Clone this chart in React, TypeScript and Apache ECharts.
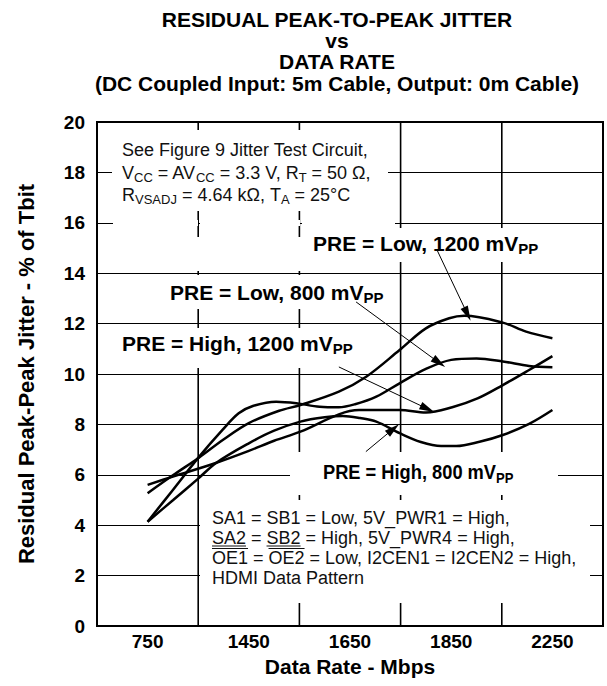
import React, { useEffect, useRef } from 'react';
import * as echarts from 'echarts';

const FONT = '"Liberation Sans", Arial, Helvetica, sans-serif';

// x-axis categories (Mbps), drawn equally spaced
const categories = ['750', '1450', '1650', '1850', '2250'];

// Curve samples: position in category units (0 = 750 ... 4 = 2250) and jitter in % of Tbit
const preLow1200X = [0, 0.25, 0.51, 0.75, 1.0, 1.3, 1.51, 1.89, 2.16, 2.49, 2.75, 2.98, 3.13, 3.51, 3.74, 4.0];
const preLow1200Y = [5.27, 5.98, 6.69, 7.4, 8.05, 8.54, 8.77, 9.3, 9.89, 10.95, 11.81, 12.21, 12.31, 12.04, 11.68, 11.42];

const preLow800X = [0, 0.25, 0.51, 0.74, 0.9, 1.04, 1.27, 1.47, 1.7, 1.89, 2.05, 2.26, 2.49, 2.75, 3.0, 3.25, 3.51, 3.77, 4.0];
const preLow800Y = [4.14, 5.4, 6.72, 7.78, 8.44, 8.73, 8.9, 8.84, 8.7, 8.68, 8.8, 9.1, 9.63, 10.2, 10.56, 10.62, 10.5, 10.32, 10.27];

const preHigh1200X = [0, 0.25, 0.68, 1.0, 1.25, 1.51, 1.89, 2.09, 2.49, 2.75, 3.01, 3.26, 3.51, 3.77, 4.0];
const preHigh1200Y = [5.6, 5.93, 6.48, 6.95, 7.35, 7.71, 8.4, 8.57, 8.57, 8.47, 8.68, 9.03, 9.56, 10.16, 10.71];

const preHigh800X = [0, 0.25, 0.5, 0.68, 1.0, 1.25, 1.51, 1.75, 1.93, 2.1, 2.26, 2.49, 2.7, 2.9, 3.05, 3.28, 3.51, 3.77, 4.0];
const preHigh800Y = [4.14, 4.99, 5.85, 6.48, 7.25, 7.75, 8.11, 8.28, 8.33, 8.25, 8.11, 7.65, 7.3, 7.14, 7.14, 7.31, 7.58, 8.02, 8.57];

// Arrow annotations: [fromX, fromY, toX, toY] in the same units as the curves
const arrowLow1200 = [2.86, 14.92, 3.16, 12.38];
const arrowLow800 = [2.06, 12.86, 2.88, 10.45];
const arrowHigh1200 = [1.89, 10.28, 2.765, 8.62];
const arrowHigh800 = [2.157, 6.92, 2.427, 7.82];

// vertical grid lines sit between categories (x-scale units)
const bandBoundaries = [1, 2, 3, 4];
const yRange = [0, 20];

const titleLines = [
  'RESIDUAL PEAK-TO-PEAK JITTER',
  'vs',
  'DATA RATE',
  '(DC Coupled Input: 5m Cable, Output: 0m Cable)',
];

const condLines = [
  'See Figure 9 Jitter Test Circuit,',
  'V{s|CC} = AV{s|CC} = 3.3 V, R{s|T} = 50 Ω,',
  'R{s|VSADJ} = 4.64 kΩ, T{s|A} = 25°C',
];

const setupLines = [
  'SA1 = SB1 = Low, 5V_PWR1 = High,',
  'SA2 = SB2 = High, 5V_PWR4 = High,',
  'OE1 = OE2 = Low, I2CEN1 = I2CEN2 = High,',
  'HDMI Data Pattern',
];

// band centre offset: category i is drawn at i + 0.5 on a 0..5 value scale
const BAND = 0.5;

function measure(text: string, font: string): number {
  const c = document.createElement('canvas').getContext('2d');
  if (!c) return text.length * 9;
  c.font = font;
  return c.measureText(text).width;
}

function mkSeries(name: string, xs: number[], ys: number[], arrow: number[]) {
  return {
    type: 'line',
    name,
    xAxisIndex: 0,
    yAxisIndex: 0,
    data: xs.map((x, i) => [x + BAND, ys[i]]),
    smooth: 0.35,
    symbol: 'none',
    lineStyle: { color: '#000', width: 2.5 },
    emphasis: { disabled: true },
    z: 3,
    markLine: {
      silent: true,
      animation: false,
      z: 5,
      symbol: ['none', 'triangle'],
      symbolSize: [8, 15],
      lineStyle: { color: '#000', width: 1, type: 'solid' },
      itemStyle: { color: '#000' },
      label: { show: false },
      emphasis: { disabled: true },
      data: [[{ coord: [arrow[0] + BAND, arrow[1]] }, { coord: [arrow[2] + BAND, arrow[3]] }]],
    },
  };
}

function whiteRect(x: number, y: number, w: number, h: number) {
  return { type: 'rect', z: 1, silent: true, shape: { x, y, width: w, height: h }, style: { fill: '#fff' } };
}

function txt(text: string, x: number, y: number, size: number, weight: string, family: string, align = 'left', rich?: any, lineHeight?: number) {
  return {
    type: 'text',
    z: 6,
    silent: true,
    x,
    y,
    style: {
      text,
      x: 0,
      y: 0,
      fill: '#000',
      fontSize: size,
      fontWeight: weight,
      fontFamily: family,
      align,
      textAlign: align,
      verticalAlign: 'middle',
      textVerticalAlign: 'middle',
      lineHeight,
      rich,
    },
  };
}

export default function App() {
  const ref = useRef<HTMLDivElement>(null);
  useEffect(() => {
    if (!ref.current) return;
    const chart = echarts.init(ref.current, null, { renderer: 'svg' });

    const bandLabel = (v: number) => {
      const k = v - BAND;
      const i = Math.round(k);
      return Math.abs(k - i) < 1e-6 && i >= 0 && i < categories.length ? categories[i] : '';
    };

    const option: any = {
      animation: false,
      textStyle: { fontFamily: FONT },
      grid: { left: 97, right: 4, top: 122, bottom: 60, show: true, borderColor: '#000', borderWidth: 2, backgroundColor: 'transparent' },
      xAxis: {
        type: 'value',
        min: 0,
        max: categories.length,
        interval: 0.5,
        position: 'bottom',
        axisLine: { show: true, onZero: false, lineStyle: { color: '#000', width: 2 } },
        axisTick: { show: false },
        axisLabel: { formatter: bandLabel, color: '#000', fontSize: 19, fontWeight: 'bold', fontFamily: FONT, margin: 6 },
        splitLine: { show: false },
        name: 'Data Rate - Mbps',
        nameLocation: 'middle',
        nameGap: 25,
        nameTextStyle: { color: '#000', fontSize: 21, fontWeight: 'bold', fontFamily: FONT },
      },
      yAxis: {
        type: 'value',
        min: yRange[0],
        max: yRange[1],
        interval: 2,
        axisLine: { show: true, onZero: false, lineStyle: { color: '#000', width: 2 } },
        axisTick: { show: false },
        axisLabel: { color: '#000', fontSize: 19, fontWeight: 'bold', fontFamily: FONT, margin: 12 },
        splitLine: { show: true, lineStyle: { color: '#000', width: 1 } },
        name: 'Residual Peak-Peak Jitter - % of Tbit',
        nameLocation: 'middle',
        nameRotate: 90,
        nameGap: 60,
        nameTextStyle: { color: '#000', fontSize: 22, fontWeight: 'bold', fontFamily: FONT },
      },
      series: [
        mkSeries('PRE = Low, 1200 mVPP', preLow1200X, preLow1200Y, arrowLow1200),
        mkSeries('PRE = Low, 800 mVPP', preLow800X, preLow800Y, arrowLow800),
        mkSeries('PRE = High, 1200 mVPP', preHigh1200X, preHigh1200Y, arrowHigh1200),
        mkSeries('PRE = High, 800 mVPP', preHigh800X, preHigh800Y, arrowHigh800),
      ],
    };
    chart.setOption(option);

    // vertical grid lines: positioned through the chart's own x / y scales
    const yTop = chart.convertToPixel({ yAxisIndex: 0 }, yRange[1]) as number;
    const yBot = chart.convertToPixel({ yAxisIndex: 0 }, yRange[0]) as number;
    const vGrid = bandBoundaries.map((v) => {
      const px = chart.convertToPixel({ xAxisIndex: 0 }, v) as number;
      return {
        type: 'rect', z: 0, silent: true,
        shape: { x: px - 0.8, y: yTop, width: 1.6, height: yBot - yTop },
        style: { fill: '#000' },
      };
    });

    const subBold = { s: { fontSize: 15, fontWeight: 'bold', fontFamily: FONT, verticalAlign: 'bottom', lineHeight: 12 } };
    const subReg = { s: { fontSize: 13, fontWeight: 'normal', fontFamily: FONT, fill: '#111', verticalAlign: 'bottom', lineHeight: 10 } };

    const annFont = `18px ${FONT}`;
    const x0 = 212;
    const setupY = [518, 538, 558, 578];
    const wSA2 = measure('SA2', annFont);
    const wSA2eq = measure('SA2 = ', annFont);
    const wSB2 = measure('SB2', annFont);
    const wOE1 = measure('OE1', annFont);
    const wOE1eq = measure('OE1 = ', annFont);
    const wOE2 = measure('OE2', annFont);
    const decoLine = (xa: number, xb: number, y: number) => ({
      type: 'line', z: 6, silent: true,
      shape: { x1: xa, y1: y, x2: xb, y2: y },
      style: { stroke: '#111', lineWidth: 1.2 },
    });

    const condY = [150, 173, 195];
    const titleY = [19, 40, 61, 83];

    const high800Label: any = txt('PRE = High, 800 mV{s|PP}', 323, 472, 21, 'bold', FONT, 'left', subBold, 26);
    high800Label.scaleX = 0.87;

    const graphic: any[] = [
      ...vGrid,
      // white backgrounds behind annotations (they hide the grid lines)
      whiteRect(112, 130, 276, 81),
      whiteRect(113, 220, 85, 6),
      whiteRect(200, 220, 100, 6),
      whiteRect(302, 220, 93, 6),
      whiteRect(308, 228, 240, 34),
      whiteRect(112, 237, 283, 34),
      whiteRect(112, 275, 283, 34),
      whiteRect(115, 328, 250, 40),
      whiteRect(290, 452, 268, 43),
      whiteRect(200, 500, 390, 103),
      // title
      ...titleLines.map((t, i) => txt(t, 337, titleY[i], 21, 'bold', FONT, 'center')),
      // test conditions
      ...condLines.map((t, i) => {
        const e: any = txt(t, 122, condY[i], 18, 'normal', FONT, 'left', subReg, 22);
        e.style.fill = '#111';
        return e;
      }),
      // curve labels
      txt('PRE = Low, 1200 mV{s|PP}', 313, 243, 21, 'bold', FONT, 'left', subBold, 26),
      txt('PRE = Low, 800 mV{s|PP}', 170, 292, 21, 'bold', FONT, 'left', subBold, 26),
      txt('PRE = High, 1200 mV{s|PP}', 122, 343, 21, 'bold', FONT, 'left', subBold, 26),
      high800Label,
      // setup notes
      ...setupLines.map((t, i) => {
        const e: any = txt(t, x0, setupY[i], 18, 'normal', FONT, 'left');
        e.style.fill = '#111';
        return e;
      }),
      decoLine(x0, x0 + wSA2, setupY[1] + 8),
      decoLine(x0 + wSA2eq, x0 + wSA2eq + wSB2, setupY[1] + 8),
      decoLine(x0, x0 + wOE1, setupY[2] - 9.5),
      decoLine(x0 + wOE1eq, x0 + wOE1eq + wOE2, setupY[2] - 9.5),
    ];

    chart.setOption({ graphic: { elements: graphic } });
    return () => chart.dispose();
  }, []);
  return <div ref={ref} style={{ position: 'fixed', left: 0, top: 0, width: 607, height: 686, background: '#fff' }} />;
}
